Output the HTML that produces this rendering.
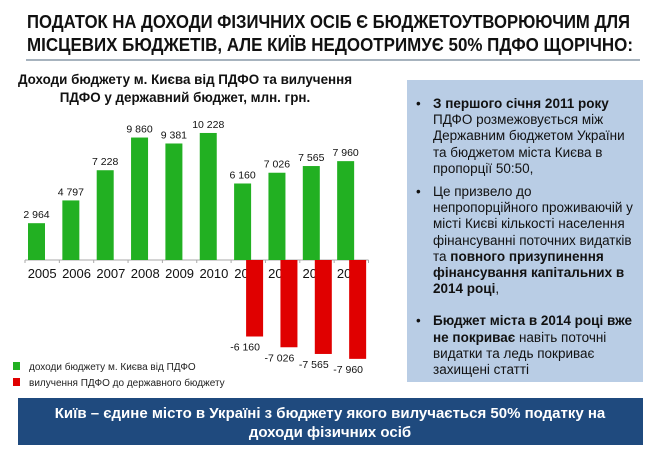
<!DOCTYPE html>
<html><head><meta charset="utf-8"><style>
html,body{margin:0;padding:0;background:#fff;}
svg{display:block;font-family:"Liberation Sans","DejaVu Sans",sans-serif;}
</style></head><body>
<svg id="s" width="660" height="457" viewBox="0 0 660 457">
<g font-weight="bold" font-size="18" fill="#111">
<text x="27" y="28" textLength="603" lengthAdjust="spacingAndGlyphs">ПОДАТОК НА ДОХОДИ ФІЗИЧНИХ ОСІБ Є БЮДЖЕТОУТВОРЮЮЧИМ ДЛЯ</text>
<text x="27" y="51" textLength="606" lengthAdjust="spacingAndGlyphs">МІСЦЕВИХ БЮДЖЕТІВ, АЛЕ КИЇВ НЕДООТРИМУЄ 50% ПДФО ЩОРІЧНО:</text>
</g>
<line x1="26" y1="60" x2="640" y2="60" stroke="#8a9aa8" stroke-width="1.5"/>
<g font-weight="bold" font-size="13.4" fill="#111" text-anchor="middle">
<text x="185" y="84">Доходи бюджету м. Києва від ПДФО та вилучення</text>
<text x="185" y="102">ПДФО у державний бюджет, млн. грн.</text>
</g>
<g id="chart"></g>
<g font-size="10" fill="#222">
<rect x="13" y="362" width="7" height="8" fill="#22b022"/>
<text x="29" y="370">доходи бюджету м. Києва від ПДФО</text>
<rect x="13" y="378" width="7" height="8" fill="#e00000"/>
<text x="29" y="386">вилучення  ПДФО до державного бюджету</text>
</g>
<rect x="407" y="80" width="236" height="302" fill="#b9cde5"/>
<g font-size="13.5" fill="#111">
<text x="416" y="108">•</text>
<text x="433" y="108" font-weight="bold">З першого січня 2011 року</text>
<text x="433" y="124">ПДФО розмежовується між</text>
<text x="433" y="140">Державним  бюджетом України</text>
<text x="433" y="157">та бюджетом міста Києва в</text>
<text x="433" y="173">пропорції  50:50,</text>
<text x="416" y="196">•</text>
<text x="433" y="196">Це призвело  до</text>
<text x="433" y="212">непропорційного  проживаючій  у</text>
<text x="433" y="228">місті Києві кількості населення</text>
<text x="433" y="245">фінансуванні поточних  видатків</text>
<text x="433" y="261">та <tspan font-weight="bold">повного призупинення</tspan></text>
<text x="433" y="277" font-weight="bold">фінансування капітальних  в</text>
<text x="433" y="293"><tspan font-weight="bold">2014 році</tspan>,</text>
<text x="416" y="325">•</text>
<text x="433" y="325" font-weight="bold">Бюджет міста  в 2014 році вже</text>
<text x="433" y="342"><tspan font-weight="bold">не покриває</tspan> навіть поточні</text>
<text x="433" y="358">видатки та ледь покриває</text>
<text x="433" y="374">захищені  статті</text>
</g>
<rect x="18" y="398" width="625" height="47" fill="#1f4a7e"/>
<g font-weight="bold" font-size="15" fill="#fff" text-anchor="middle">
<text x="330" y="418">Київ – єдине місто в Україні з бюджету якого вилучається 50%  податку на</text>
<text x="330" y="437">доходи фізичних осіб</text>
</g>
</svg>
<script>
const years = ["2005","2006","2007","2008","2009","2010","2011","2012","2013","2014"];
const income = [2964,4797,7228,9860,9381,10228,6160,7026,7565,7960];
const withdrawal = [null,null,null,null,null,null,-6160,-7026,-7565,-7960];
const incomeLabels = ["2 964","4 797","7 228","9 860","9 381","10 228","6 160","7 026","7 565","7 960"];
const withdrawalLabels = ["","","","","","","-6 160","-7 026","-7 565","-7 960"];

const NS="http://www.w3.org/2000/svg";
const g=document.getElementById('chart');
const x0=25, step=34.35, y0=260, k=0.01242;
const xCat=i=>x0+i*step;
const y=v=>y0-v*k;
function mk(tag,attrs){const e=document.createElementNS(NS,tag);for(const a in attrs)e.setAttribute(a,attrs[a]);g.appendChild(e);return e;}
const ax=mk('line',{x1:x0,y1:y0,x2:x0+years.length*step,y2:y0,stroke:'#aaa','stroke-width':1});


for(let i=0;i<=years.length;i++){
  const t=mk('line',{x1:xCat(i),y1:y0,x2:xCat(i),y2:y0+3,stroke:'#aaa'});
  
  
}
years.forEach((yr,i)=>{
  const t=mk('text',{x:xCat(i)+step/2,y:y0+18,'font-size':13,'text-anchor':'middle',fill:'#111'});
  t.textContent=yr;
  
  
});
income.forEach((v,i)=>{
  const b=mk('rect',{x:xCat(i)+3,y:y(v),width:17,height:y0-y(v),fill:'#22b022'});
  
  
  const t=mk('text',{x:xCat(i)+11.5,y:y(v)-5,'font-size':10.5,'text-anchor':'middle',fill:'#111'});
  t.textContent=incomeLabels[i];
  
  
});
withdrawal.forEach((v,i)=>{
  if(v===null)return;
  const b=mk('rect',{x:xCat(i)+15,y:y0,width:17,height:y(v)-y0,fill:'#e00000'});
  
  
  const t=mk('text',{x:xCat(i)+14,y:y(v)+14,'font-size':10.5,'text-anchor':'middle',fill:'#111'});
  t.textContent=withdrawalLabels[i];
  
  
});
</script>
</body></html>
